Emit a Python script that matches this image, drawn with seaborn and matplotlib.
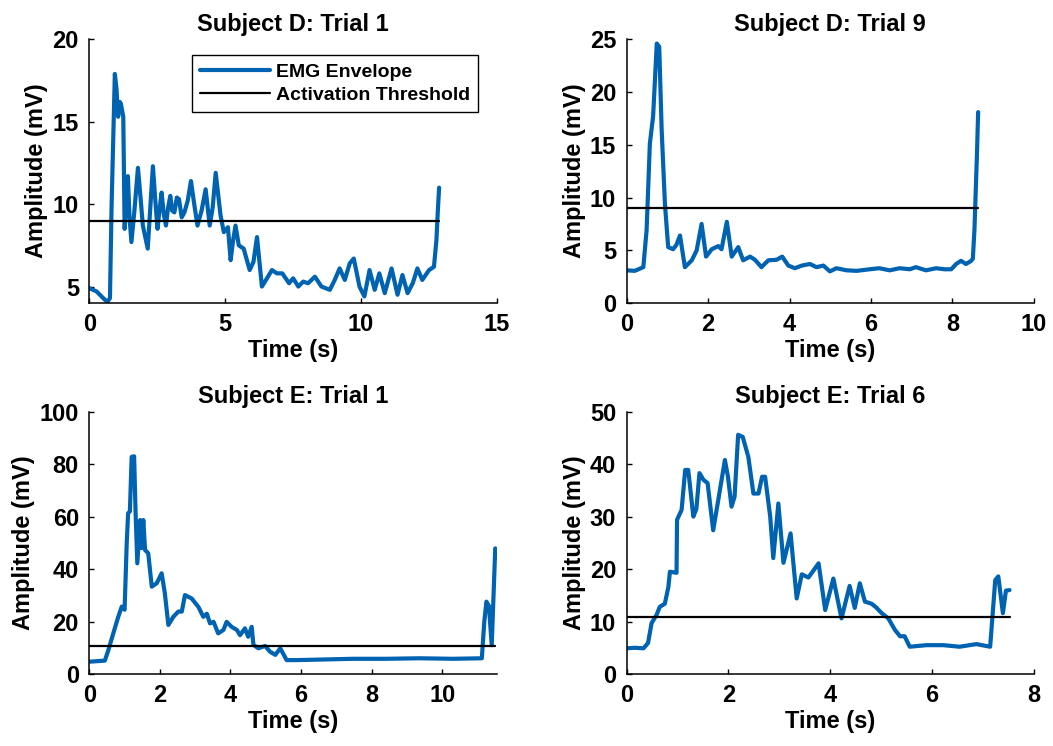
import matplotlib
matplotlib.use("Agg")
import matplotlib.pyplot as plt
import seaborn as sns
import pandas as pd

# ---------------- data ----------------
# Subject D: Trial 1
t_d1 = [0.00, 0.27, 0.57, 0.68, 0.76, 0.82, 0.94, 1.00, 1.06, 1.12,
        1.16, 1.25, 1.30, 1.36, 1.42, 1.48, 1.55, 1.66, 1.79, 1.88,
        1.97, 2.15, 2.34, 2.43, 2.51, 2.58, 2.66, 2.74, 2.82, 2.90,
        2.98, 3.05, 3.13, 3.22, 3.30, 3.40, 3.50, 3.62, 3.74, 3.86,
        3.98, 4.13, 4.28, 4.43, 4.54, 4.65, 4.74, 4.83, 4.95, 5.10,
        5.20, 5.29, 5.38, 5.50, 5.68, 5.90, 6.04, 6.17, 6.35, 6.50,
        6.72, 6.90, 7.10, 7.35, 7.50, 7.69, 7.87, 8.05, 8.30, 8.54,
        8.85, 9.03, 9.21, 9.40, 9.58, 9.73, 9.94, 10.12, 10.31, 10.50,
        10.67, 10.87, 11.12, 11.34, 11.52, 11.71, 11.90, 12.07, 12.25, 12.50,
        12.68, 12.77, 12.82, 12.87]
v_d1 = [4.9, 4.7, 4.2, 4.1, 4.3, 9.9, 17.9, 17.0, 15.3, 16.2,
        16.1, 15.3, 8.5, 10.0, 11.7, 9.2, 7.7, 9.6, 12.2, 10.5,
        8.7, 7.3, 12.3, 10.2, 8.5, 9.6, 10.7, 9.4, 8.7, 9.8,
        10.5, 9.6, 9.5, 10.4, 10.3, 9.2, 9.5, 10.2, 11.4, 10.0,
        8.7, 9.6, 10.9, 8.7, 9.8, 11.9, 10.6, 9.3, 8.3, 8.6,
        6.6, 7.8, 8.7, 7.5, 7.3, 6.0, 6.5, 8.0, 5.0, 5.4,
        6.0, 5.8, 5.8, 5.2, 5.5, 5.0, 5.3, 5.2, 5.6, 5.0,
        4.8, 5.4, 6.1, 5.4, 6.4, 6.7, 5.0, 4.4, 6.0, 4.8,
        5.8, 4.6, 6.1, 4.5, 5.7, 4.6, 5.2, 6.1, 5.4, 6.0,
        6.2, 7.8, 9.5, 11.0]

# Subject D: Trial 9
t_d9 = [0.00, 0.20, 0.41, 0.49, 0.57, 0.65, 0.74, 0.80, 0.86, 0.94,
        1.02, 1.14, 1.22, 1.31, 1.43, 1.60, 1.72, 1.84, 1.95, 2.09,
        2.25, 2.33, 2.46, 2.58, 2.74, 2.86, 3.03, 3.15, 3.31, 3.48,
        3.68, 3.82, 3.97, 4.13, 4.30, 4.50, 4.66, 4.83, 4.99, 5.15,
        5.40, 5.65, 5.97, 6.20, 6.46, 6.70, 6.95, 7.10, 7.35, 7.60,
        7.80, 7.97, 8.09, 8.21, 8.33, 8.46, 8.50, 8.54, 8.60, 8.63]
v_d9 = [3.1, 3.05, 3.4, 6.9, 15.1, 17.7, 24.6, 24.3, 16.4, 9.4,
        5.3, 5.1, 5.5, 6.4, 3.4, 4.05, 5.0, 7.5, 4.4, 5.1,
        5.4, 5.1, 7.7, 4.4, 5.3, 4.05, 4.4, 4.1, 3.4, 4.05,
        4.1, 4.4, 3.55, 3.3, 3.55, 3.7, 3.4, 3.55, 3.0, 3.3,
        3.1, 3.05, 3.2, 3.3, 3.1, 3.3, 3.2, 3.4, 3.1, 3.3,
        3.2, 3.2, 3.7, 4.0, 3.7, 4.0, 4.2, 7.0, 14.0, 18.1]

# Subject E: Trial 1
t_e1 = [0.00, 0.44, 0.54, 0.68, 0.82, 0.92, 1.00, 1.06, 1.10, 1.15,
        1.20, 1.27, 1.31, 1.36, 1.44, 1.48, 1.53, 1.58, 1.67, 1.77,
        1.91, 2.05, 2.14, 2.24, 2.38, 2.52, 2.62, 2.71, 2.90, 3.09,
        3.23, 3.33, 3.42, 3.52, 3.65, 3.80, 3.89, 4.03, 4.18, 4.27,
        4.41, 4.50, 4.60, 4.65, 4.79, 4.98, 5.12, 5.27, 5.41, 5.59,
        5.86, 6.52, 7.47, 8.41, 9.35, 10.30, 11.12, 11.19, 11.25, 11.32,
        11.40, 11.50]
v_e1 = [4.7, 5.1, 9.1, 15.5, 21.8, 25.7, 24.5, 49.8, 61.3, 62.0,
        82.8, 83.0, 62.0, 42.2, 58.7, 48.0, 58.7, 47.3, 46.0, 33.3,
        34.6, 38.4, 30.8, 18.7, 21.8, 23.8, 23.8, 30.1, 28.8, 25.6,
        21.8, 23.0, 19.3, 19.9, 15.5, 16.8, 19.9, 18.0, 16.8, 14.8,
        17.4, 14.2, 18.0, 11.1, 9.8, 10.7, 8.5, 7.3, 9.8, 5.3,
        5.3, 5.5, 5.8, 5.8, 6.0, 5.8, 6.0, 20.0, 27.6, 26.0,
        11.0, 47.9]

# Subject E: Trial 6
t_e6 = [0.00, 0.16, 0.33, 0.42, 0.49, 0.59, 0.65, 0.75, 0.82, 0.85,
        0.98, 0.99, 1.08, 1.15, 1.21, 1.31, 1.37, 1.43, 1.51, 1.59,
        1.70, 1.80, 1.93, 1.99, 2.06, 2.12, 2.19, 2.28, 2.39, 2.49,
        2.59, 2.66, 2.72, 2.82, 2.88, 2.98, 3.08, 3.22, 3.34, 3.44,
        3.57, 3.66, 3.77, 3.90, 4.06, 4.22, 4.38, 4.48, 4.58, 4.68,
        4.81, 4.90, 5.01, 5.14, 5.27, 5.37, 5.46, 5.56, 5.89, 6.22,
        6.54, 6.87, 7.14, 7.24, 7.30, 7.39, 7.45, 7.52]
v_e6 = [4.9, 5.0, 4.9, 5.9, 9.7, 11.3, 12.8, 13.4, 16.6, 19.5,
        19.3, 29.4, 31.3, 38.9, 38.9, 30.0, 31.5, 38.3, 37.0, 36.4,
        27.4, 33.2, 40.8, 37.6, 31.9, 33.8, 45.6, 45.2, 41.4, 34.4,
        34.4, 37.6, 37.6, 30.0, 22.1, 32.5, 21.2, 26.8, 14.4, 19.0,
        18.4, 19.6, 21.1, 12.2, 18.2, 10.6, 16.8, 12.6, 17.3, 13.8,
        13.4, 12.7, 11.6, 10.6, 8.4, 7.2, 7.2, 5.2, 5.5, 5.5,
        5.2, 5.7, 5.2, 17.9, 18.6, 11.6, 15.9, 16.0]

titles = ["Subject D: Trial 1", "Subject D: Trial 9",
          "Subject E: Trial 1", "Subject E: Trial 6"]
thresholds = [9.0, 9.0, 10.8, 10.8]
xlims = [(0, 15), (0, 10), (0, 11.55), (0, 8)]
ylims = [(4, 20), (0, 25), (0, 100), (0, 50)]
xticks = [[0, 5, 10, 15], [0, 2, 4, 6, 8, 10], [0, 2, 4, 6, 8, 10], [0, 2, 4, 6, 8]]
yticks = [[5, 10, 15, 20], [0, 5, 10, 15, 20, 25], [0, 20, 40, 60, 80, 100],
          [0, 10, 20, 30, 40, 50]]
series = [(t_d1, v_d1), (t_d9, v_d9), (t_e1, v_e1), (t_e6, v_e6)]
legend_labels = ["EMG Envelope", "Activation Threshold"]

# ---------------- style ----------------
sns.set_theme(style="ticks")
plt.rcParams["font.family"] = ["Liberation Sans", "DejaVu Sans"]
plt.rcParams["font.weight"] = "bold"
plt.rcParams["axes.labelweight"] = "bold"
plt.rcParams["axes.titleweight"] = "bold"
plt.rcParams["text.color"] = "black"
plt.rcParams["axes.labelcolor"] = "black"
plt.rcParams["axes.titlecolor"] = "black"

BLUE = "#0063B1"
FS = 17

fig = plt.figure(figsize=(10.53, 7.46), dpi=100)
positions = [
    [0.0848, 0.5938, 0.3872, 0.3535],
    [0.5951, 0.5938, 0.3868, 0.3535],
    [0.0848, 0.0965, 0.3872, 0.3516],
    [0.5951, 0.0965, 0.3868, 0.3516],
]

for i, pos in enumerate(positions):
    ax = fig.add_axes(pos)
    t, v = series[i]
    df = pd.DataFrame({"t": t, "v": v})
    sns.lineplot(data=df, x="t", y="v", ax=ax, color=BLUE, linewidth=3.0,
                 sort=False, estimator=None, label=legend_labels[0],
                 solid_joinstyle="round", solid_capstyle="round")
    thr_df = pd.DataFrame({"t": [t[0], t[-1]], "v": [thresholds[i]] * 2})
    sns.lineplot(data=thr_df, x="t", y="v", ax=ax, color="black", linewidth=1.6,
                 sort=False, estimator=None, label=legend_labels[1])
    ax.set_xlim(*xlims[i])
    ax.set_ylim(*ylims[i])
    ax.set_xticks(xticks[i])
    ax.set_yticks(yticks[i])
    ax.set_xticklabels([str(x) for x in xticks[i]])
    ax.set_yticklabels([str(y) for y in yticks[i]])
    for s in ["top", "right"]:
        ax.spines[s].set_visible(False)
    for s in ["left", "bottom"]:
        ax.spines[s].set_linewidth(1.1)
        ax.spines[s].set_color("black")
    ax.tick_params(axis="both", direction="in", length=3.5, width=1.0,
                   colors="black", labelsize=FS)
    ax.tick_params(axis="x", pad=7)
    ax.tick_params(axis="y", pad=7.5)
    for lab in ax.get_xticklabels() + ax.get_yticklabels():
        lab.set_fontweight("bold")
    ax.set_xlabel("Time (s)", fontsize=FS, fontweight="bold", labelpad=2,
                  color="black")
    ax.set_ylabel("Amplitude (mV)", fontsize=FS, fontweight="bold", labelpad=3,
                  color="black")
    ax.set_title(titles[i], fontsize=FS, fontweight="bold", pad=6, color="black")
    ax.set_facecolor("white")
    if i == 0:
        leg = ax.legend(loc="upper right", bbox_to_anchor=(0.953, 0.940),
                        borderaxespad=0, fancybox=False, framealpha=1,
                        edgecolor="black", handlelength=3.6,
                        labelspacing=0.3, borderpad=0.4, handletextpad=0.3,
                        prop={"weight": "bold", "size": 14})
        leg.get_frame().set_linewidth(1.0)
        for txt in leg.get_texts():
            txt.set_color("black")
    else:
        lg = ax.get_legend()
        if lg is not None:
            lg.remove()

fig.savefig("out.png", dpi=100, facecolor="white")
